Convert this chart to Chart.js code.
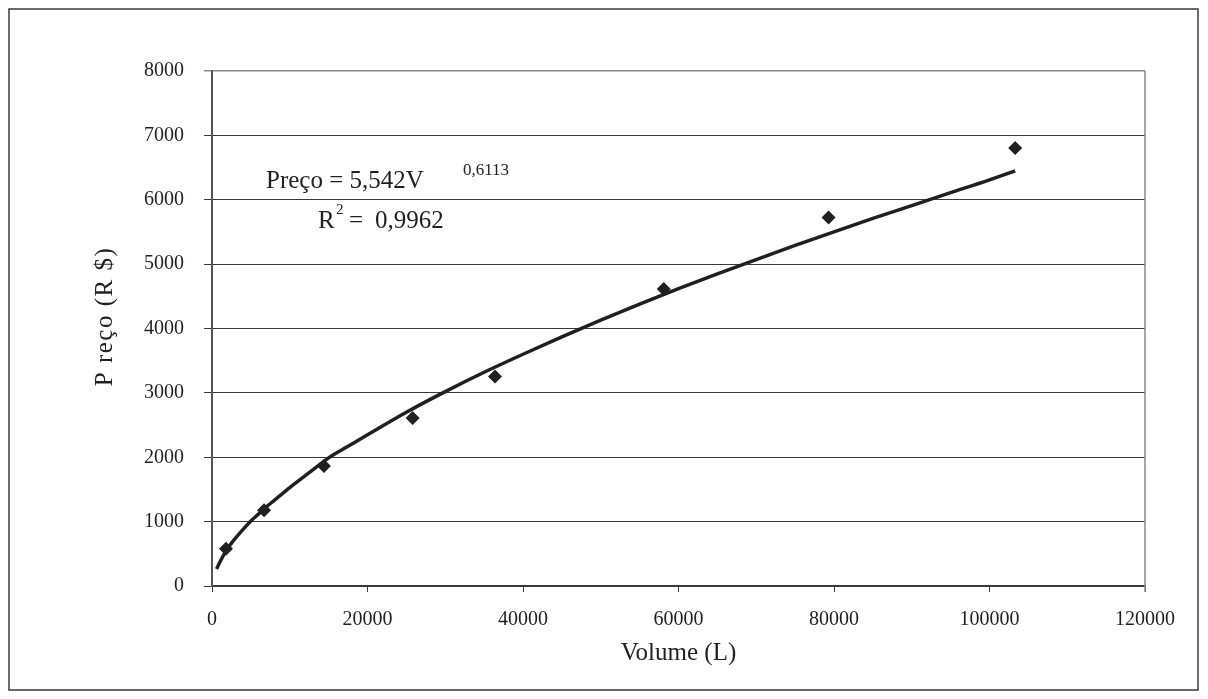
<!DOCTYPE html>
<html lang="pt">
<head>
<meta charset="utf-8">
<title>Preço x Volume</title>
<script src="https://cdn.jsdelivr.net/npm/chart.js@4.4.1/dist/chart.umd.min.js"></script>
<style>
  html, body { margin: 0; padding: 0; background: #ffffff; }
  canvas { display: block; }
</style>
</head>
<body>
<canvas id="chart" width="1208" height="699"></canvas>
<script>
// Observed reservoir volumes (L) and prices (R$)
const volumes = [1800, 6700, 14400, 25800, 36400, 58100, 79300, 103300];
const prices = [580, 1175, 1865, 2610, 3255, 4615, 5725, 6805];

// Power trend line, sampled along the drawn curve
const trendVolumes = [600, 1000, 2000, 3000, 4000, 5000, 6000, 7000, 8000, 10000, 12500, 15000, 17500, 20000,
  25000, 30000, 35000, 40000, 45000, 50000, 55000, 60000, 65000, 70000, 75000, 80000, 85000, 90000,
  95000, 100000, 103300];
const trendPrices = [265, 370, 580, 740, 880, 1010, 1120, 1230, 1330, 1530, 1760, 1990, 2170, 2350,
  2700, 3020, 3320, 3600, 3870, 4130, 4380, 4620, 4850, 5070, 5290, 5500, 5710, 5910,
  6110, 6310, 6450];

// Axis ranges and tick steps
const xTicks = [0, 20000, 40000, 60000, 80000, 100000, 120000];
const yTicks = [0, 1000, 2000, 3000, 4000, 5000, 6000, 7000, 8000];

const ink = '#231f20';
const serif = "'Liberation Serif', 'Times New Roman', serif";

const observed = volumes.map((v, i) => ({ x: v, y: prices[i] }));
const trend = trendVolumes.map((v, i) => ({ x: v, y: trendPrices[i] }));

// Outer frame, right plot border, vertical axis title and the regression equation
const decorations = {
  id: 'decorations',
  beforeDraw(chart) {
    const ctx = chart.ctx;
    ctx.save();
    ctx.fillStyle = '#ffffff';
    ctx.fillRect(0, 0, chart.width, chart.height);
    ctx.strokeStyle = '#3a3a3a';
    ctx.lineWidth = 1.5;
    ctx.strokeRect(9, 9, chart.width - 19, chart.height - 18);
    ctx.restore();
  },
  afterDatasetsDraw(chart) {
    const ctx = chart.ctx;
    const a = chart.chartArea;
    ctx.save();
    ctx.strokeStyle = '#8a8a8a';
    ctx.lineWidth = 1.5;
    ctx.beginPath();
    ctx.moveTo(a.right, a.top);
    ctx.lineTo(a.right, a.bottom + 6);
    ctx.stroke();

    // vertical axis title
    ctx.save();
    ctx.translate(105, (a.top + a.bottom) / 2 - 12);
    ctx.rotate(-Math.PI / 2);
    ctx.fillStyle = ink;
    ctx.font = '25px ' + serif;
    ctx.textAlign = 'center';
    ctx.textBaseline = 'middle';
    ctx.letterSpacing = '1.5px';
    ctx.fillText('P reço (R $)', 0, 0);
    ctx.restore();

    ctx.fillStyle = ink;
    ctx.textAlign = 'left';
    ctx.textBaseline = 'alphabetic';
    const x0 = a.left, y0 = a.top;
    ctx.font = '25px ' + serif;
    ctx.fillText('Preço = 5,542V', x0 + 54, y0 + 117);
    ctx.font = '17px ' + serif;
    ctx.fillText('0,6113', x0 + 251, y0 + 104);
    ctx.font = '25px ' + serif;
    ctx.fillText('R', x0 + 106, y0 + 157);
    ctx.font = '15px ' + serif;
    ctx.fillText('2', x0 + 124, y0 + 143);
    ctx.font = '25px ' + serif;
    ctx.fillText('=', x0 + 137, y0 + 157);
    ctx.fillText('0,9962', x0 + 163, y0 + 157);
    ctx.restore();
  }
};

new Chart(document.getElementById('chart'), {
  type: 'scatter',
  data: {
    datasets: [
      {
        label: 'Preço',
        data: observed,
        pointStyle: 'rectRot',
        pointRadius: 7,
        pointHoverRadius: 7,
        backgroundColor: ink,
        borderColor: ink,
        borderWidth: 0,
        showLine: false
      },
      {
        label: 'Tendência',
        data: trend,
        showLine: true,
        pointRadius: 0,
        borderColor: ink,
        borderWidth: 3.5,
        cubicInterpolationMode: 'monotone',
        fill: false
      }
    ]
  },
  options: {
    responsive: false,
    animation: false,
    devicePixelRatio: 1,
    layout: { padding: { top: 71, right: 63, bottom: 0, left: 0 } },
    plugins: {
      legend: { display: false },
      tooltip: { enabled: false }
    },
    scales: {
      x: {
        type: 'linear',
        min: xTicks[0],
        max: xTicks[xTicks.length - 1],
        afterBuildTicks(scale) { scale.ticks = xTicks.map(v => ({ value: v })); },
        afterFit(scale) { scale.height = 113; },
        ticks: {
          color: ink,
          font: { family: serif, size: 20 },
          padding: 16,
          maxRotation: 0,
          callback: v => String(v)
        },
        grid: {
          drawOnChartArea: false,
          drawTicks: true,
          tickLength: 6,
          color: '#3a3a3a',
          lineWidth: 1
        },
        border: { display: true, color: '#3a3a3a', width: 1.5 },
        title: {
          display: true,
          text: 'Volume (L)',
          color: ink,
          font: { family: serif, size: 25 },
          padding: { top: 0, bottom: 31 }
        }
      },
      y: {
        type: 'linear',
        min: yTicks[0],
        max: yTicks[yTicks.length - 1],
        afterBuildTicks(scale) { scale.ticks = yTicks.map(v => ({ value: v })); },
        afterFit(scale) { scale.width = 212; },
        ticks: {
          color: ink,
          font: { family: serif, size: 20 },
          padding: 20,
          callback: v => String(v)
        },
        grid: {
          drawTicks: true,
          tickLength: 8,
          color: ctx => (ctx.tick && ctx.tick.value === 8000 ? '#8a8a8a' : '#3a3a3a'),
          lineWidth: ctx => (ctx.tick && ctx.tick.value === 8000 ? 1.5 : 1)
        },
        border: { display: true, color: '#555555', width: 2 },
        title: { display: false }
      }
    }
  },
  plugins: [decorations]
});
</script>
</body>
</html>
